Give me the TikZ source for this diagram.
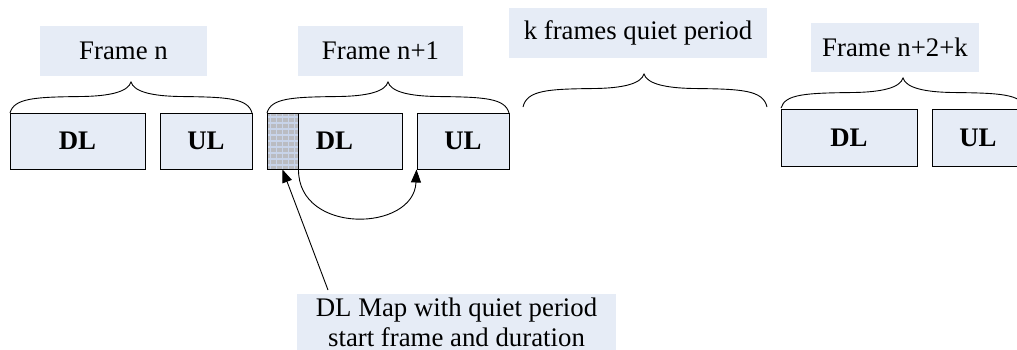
\documentclass[tikz,border=0pt]{standalone}
\usepackage{fontspec}
\setmainfont{Liberation Serif}
\usetikzlibrary{arrows.meta}

\definecolor{paleblue}{RGB}{230,236,246}
\definecolor{gridblue}{RGB}{200,212,234}
\definecolor{cellgray}{RGB}{186,188,194}

\tikzset{
  slot/.style={draw=black, line width=1pt, fill=paleblue, inner sep=0pt,
               font=\fontsize{26.8}{30}\selectfont\bfseries},
  tag/.style={fill=paleblue, inner sep=0pt, align=center,
              font=\fontsize{26.8}{30}\selectfont},
  brace line/.style={line width=0.9pt},
  link/.style={line width=0.9pt, -{Triangle[length=13pt,width=10pt]}},
  mapcell/.style={slot, fill=cellgray,
    path picture={\draw[gridblue, line width=1.4pt]
      (path picture bounding box.south west) grid[step=6pt]
      (path picture bounding box.north east);}},
}

% curly brace opening downwards: left x, tip x, right x, tip y, end y
\newcommand\framebrace[5]{%
  \draw[brace line] (#1,#5)
    .. controls ({#1+4},{#4+16}) and ({#1+25},{#4+15}) .. ({#1+0.6*(#2-#1)},{#4+14.5})
    .. controls ({#2-0.18*(#2-#1)},{#4+14}) and ({#2-3},{#4+10}) .. (#2,#4)
    .. controls ({#2+3},{#4+10}) and ({#2+0.18*(#3-#2)},{#4+14}) .. ({#3-0.6*(#3-#2)},{#4+14.5})
    .. controls ({#3-25},{#4+15}) and ({#3-4},{#4+16}) .. (#3,#5);}

\begin{document}
\begin{tikzpicture}[x=1pt,y=-1pt]
  \clip (0,0) rectangle (1017,349);
  \fill[white] (0,0) rectangle (1017,349);

  % frame captions
  \node[tag, minimum width=167pt, minimum height=50pt] (tn)   at (123.5,51)  {Frame n};
  \node[tag, minimum width=165pt, minimum height=50pt] (tn1)  at (380.5,51)  {Frame n+1};
  \node[tag, minimum width=258pt, minimum height=50pt] (tk)   at (638,33)    {k frames quiet period};
  \node[tag, minimum width=168pt, minimum height=49pt] (tn2k) at (895,47.5)  {Frame n+2+k};

  % sub-frames
  \node[slot, minimum width=135pt, minimum height=56pt] (dl1) at (77.5,141) {DL};
  \node[slot, minimum width=92pt,  minimum height=56pt] (ul1) at (206,141)  {UL};
  \node[slot, minimum width=135pt, minimum height=56pt] (dl2) at (334.5,141) {DL};
  \node[mapcell, minimum width=31pt, minimum height=56pt] (qp) at (282.5,141) {};
  \node[slot, minimum width=92pt,  minimum height=56pt] (ul2) at (463,141)  {UL};
  \node[slot, minimum width=136pt, minimum height=57pt] (dl4) at (849,137.5) {DL};
  \node[slot, minimum width=92pt,  minimum height=57pt] (ul4) at (978,137.5) {UL};

  % braces
  \framebrace{10}{131}{252}{82}{113}
  \framebrace{267}{388}{509}{82}{113}
  \framebrace{523}{644}{767}{74}{107}
  \framebrace{781}{903}{1025}{78}{108}

  % DL map annotation
  \node[tag, minimum width=319pt, minimum height=56pt] (tmap) at (456.5,322)
    {DL Map with quiet period\\start frame and duration};
  \coordinate (mapfoot) at (328,290);
  \draw[link] (mapfoot) -- (qp.south);
  \draw[link] (qp.south east) .. controls (298,235) and (414,232) .. (ul2.south west);
\end{tikzpicture}
\end{document}
